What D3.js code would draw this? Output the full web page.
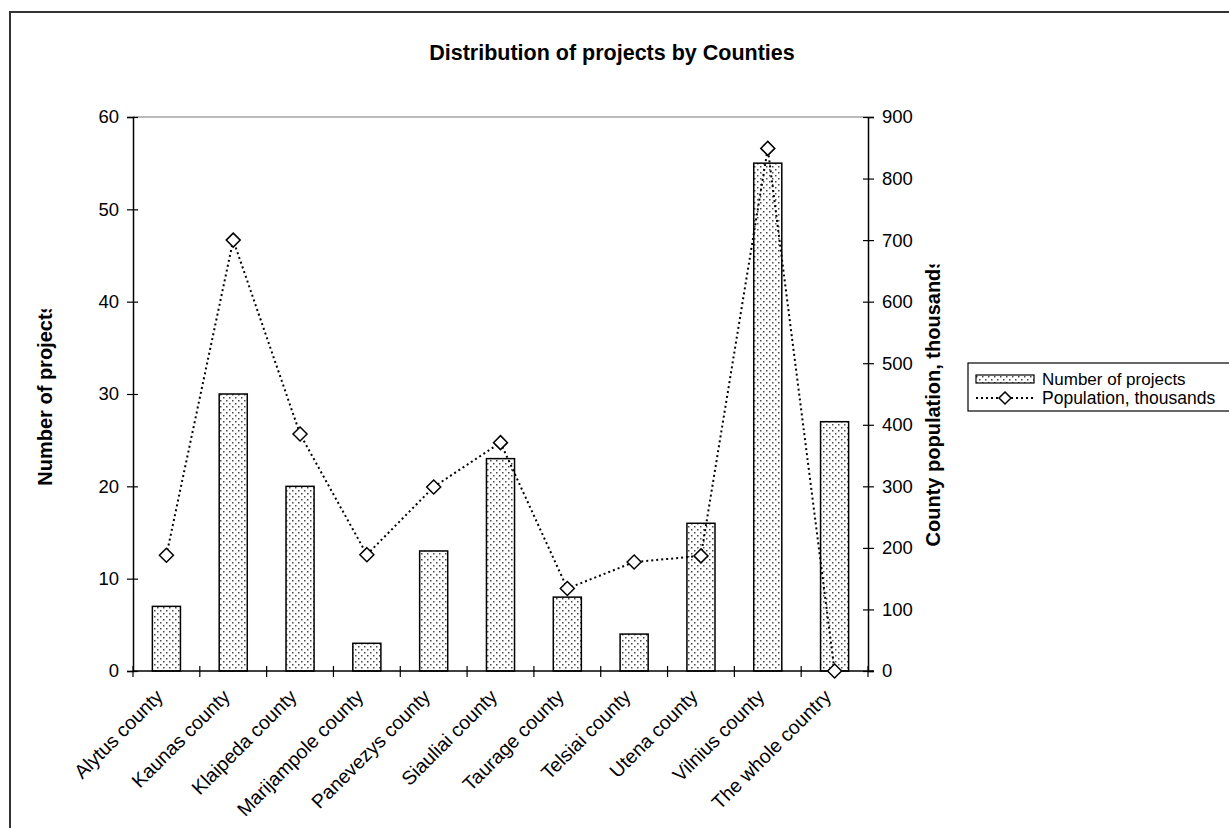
<!DOCTYPE html>
<html><head><meta charset="utf-8">
<script src="https://cdn.jsdelivr.net/npm/d3@7"></script>
<style>
html,body{margin:0;padding:0;background:#fff;overflow:hidden}
svg{display:block;font-family:"Liberation Sans",Arial,sans-serif}
</style></head>
<body>
<svg id="chart" width="1229" height="828"></svg>
<script>
const categories = ["Alytus county","Kaunas county","Klaipeda county","Marijampole county","Panevezys county","Siauliai county","Taurage county","Telsiai county","Utena county","Vilnius county","The whole country"];
const projects = [7,30,20,3,13,23,8,4,16,55,27];
const population = [188,700,385,189,299,371,134,177,187,849,0];
const leftTicks = [0,10,20,30,40,50,60];
const rightTicks = [0,100,200,300,400,500,600,700,800,900];
const title = "Distribution of projects by Counties";
const leftTitle = "Number of projects";
const rightTitle = "County population, thousands";
const legendLabels = ["Number of projects","Population, thousands"];

const svg = d3.select("#chart");
const L = 133, R = 868, T = 117, B = 671;

// pattern
const defs = svg.append("defs");
const pat = defs.append("pattern").attr("id","dots").attr("patternUnits","userSpaceOnUse")
  .attr("width",6).attr("height",6);
pat.append("rect").attr("width",6).attr("height",6).attr("fill","#fff");
pat.append("rect").attr("x",1).attr("y",1).attr("width",1.5).attr("height",1.5).attr("fill","#4a4a4a");
pat.append("rect").attr("x",4).attr("y",4).attr("width",1.5).attr("height",1.5).attr("fill","#4a4a4a");

// outer border
svg.append("rect").attr("x",10).attr("y",12).attr("width",1400).attr("height",1000)
  .attr("fill","none").attr("stroke","#333").attr("stroke-width",2);

const x = d3.scaleBand().domain(categories).range([L,R]).paddingInner(0.58).paddingOuter(0.29);
const step = x.step();
const y = d3.scaleLinear().domain([0,60]).range([B,T]);
const y2 = d3.scaleLinear().domain([0,900]).range([B,T]);
const cx = d => x(d) + x.bandwidth()/2;

// plot top border
svg.append("line").attr("x1",L).attr("x2",R).attr("y1",y(60)).attr("y2",y(60))
  .attr("stroke","#777").attr("stroke-width",1.2);

// title
svg.append("text").attr("x",612).attr("y",60).attr("text-anchor","middle")
  .attr("font-weight","bold").attr("font-size",21.5).text(title);

// bars
svg.append("g").selectAll("rect").data(categories).join("rect")
  .attr("x",d=>x(d)).attr("width",x.bandwidth())
  .attr("y",(d,i)=>y(projects[i])).attr("height",(d,i)=>y(0)-y(projects[i]))
  .attr("fill","url(#dots)").attr("stroke","#000").attr("stroke-width",1.5);

// left axis
const gl = svg.append("g").attr("transform",`translate(${L},0)`)
  .call(d3.axisLeft(y).tickValues(leftTicks).tickSize(6).tickPadding(8));
gl.select(".domain").attr("stroke","#000").attr("stroke-width",1.5);
gl.selectAll(".tick line").attr("x1",5).attr("stroke","#000").attr("stroke-width",1.2);
gl.selectAll("text").attr("font-size",18.5).attr("fill","#000").attr("font-family","Liberation Sans, Arial, sans-serif");

// right axis
const gr = svg.append("g").attr("transform",`translate(${R},0)`)
  .call(d3.axisRight(y2).tickValues(rightTicks).tickSize(6).tickPadding(8));
gr.select(".domain").attr("stroke","#000").attr("stroke-width",1.5);
gr.selectAll(".tick line").attr("x1",-5).attr("stroke","#000").attr("stroke-width",1.2);
gr.selectAll("text").attr("font-size",18.5).attr("fill","#000").attr("font-family","Liberation Sans, Arial, sans-serif");

// x axis
svg.append("line").attr("x1",L).attr("x2",R+6).attr("y1",B).attr("y2",B).attr("stroke","#000").attr("stroke-width",1.5);
const bounds = d3.range(categories.length+1).map(i => L + i*step);
svg.append("g").selectAll("line").data(bounds).join("line")
  .attr("x1",d=>d).attr("x2",d=>d).attr("y1",B-5).attr("y2",B+6).attr("stroke","#000").attr("stroke-width",1.2);
svg.append("g").selectAll("text").data(categories).join("text")
  .attr("transform",d=>`translate(${cx(d)-7},${B+22}) rotate(-45)`)
  .attr("text-anchor","end").attr("font-size",19.5).attr("dy","0.35em").text(d=>d);

// population line
const pts = categories.map((c,i)=>[cx(c), y2(population[i])]);
svg.append("path").attr("d",d3.line()(pts)).attr("fill","none").attr("stroke","#000")
  .attr("stroke-width",2).attr("stroke-dasharray","2,3");
const diamond = (px,py,s)=>`M${px},${py-s}L${px+s},${py}L${px},${py+s}L${px-s},${py}Z`;
svg.append("g").selectAll("path").data(pts).join("path")
  .attr("d",p=>diamond(p[0],p[1],7)).attr("fill","#fff").attr("stroke","#000").attr("stroke-width",1.5);

// axis titles (clipped at end like the reference)
const midY = (T+B)/2;
const lt = svg.append("text").attr("transform",`translate(52,${midY}) rotate(-90)`)
  .attr("text-anchor","middle").attr("font-weight","bold").attr("font-size",20).text(leftTitle);
const rt = svg.append("text").attr("transform",`translate(940,${midY+8}) rotate(-90)`)
  .attr("text-anchor","middle").attr("font-weight","bold").attr("font-size",20).text(rightTitle);
function clipTop(sel, id, cy){
  const w = sel.node().getComputedTextLength();
  const top = cy - w/2 + 7;
  defs.append("clipPath").attr("id",id).append("rect").attr("x",0).attr("y",top).attr("width",1229).attr("height",828);
  const g = svg.append("g").attr("clip-path",`url(#${id})`);
  g.node().appendChild(sel.node());
}
clipTop(lt,"clipL",midY);
clipTop(rt,"clipR",midY+8);

// legend
const lg = svg.append("g");
lg.append("rect").attr("x",968).attr("y",363).attr("width",400).attr("height",48)
  .attr("fill","#fff").attr("stroke","#000").attr("stroke-width",1.2);
lg.append("rect").attr("x",976).attr("y",375).attr("width",58).attr("height",8)
  .attr("fill","url(#dots)").attr("stroke","#000").attr("stroke-width",1.2);
lg.append("text").attr("x",1042).attr("y",379).attr("dy","0.35em").attr("font-size",17).text(legendLabels[0]);
lg.append("line").attr("x1",976).attr("x2",1034).attr("y1",398).attr("y2",398)
  .attr("stroke","#000").attr("stroke-width",2).attr("stroke-dasharray","2,3");
lg.append("path").attr("d",diamond(1005,398,6)).attr("fill","#fff").attr("stroke","#000").attr("stroke-width",1.5);
lg.append("text").attr("x",1042).attr("y",398).attr("dy","0.35em").attr("font-size",17.5).text(legendLabels[1]);
</script>
</body></html>
